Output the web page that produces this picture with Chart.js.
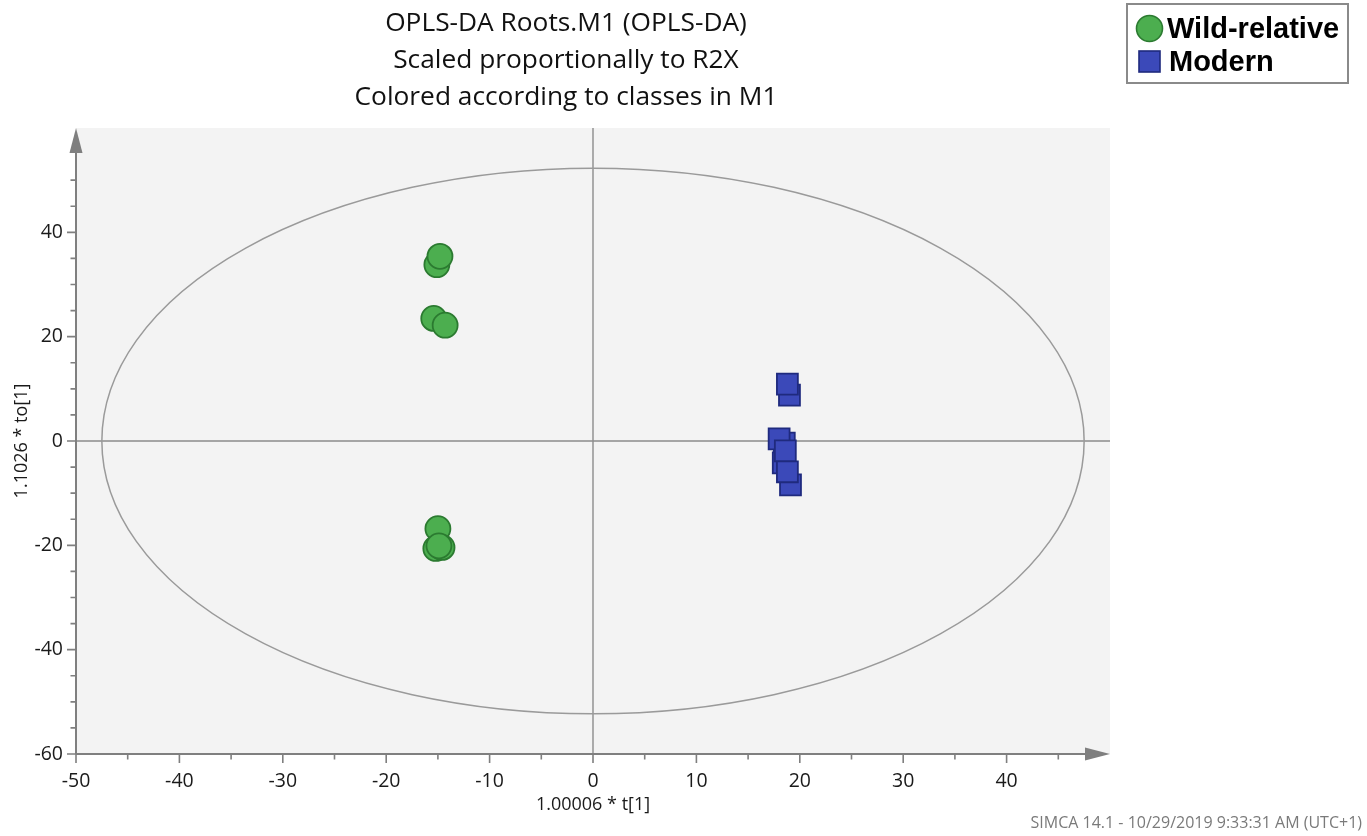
<!DOCTYPE html>
<html>
<head>
<meta charset="utf-8">
<script src="https://cdn.jsdelivr.net/npm/chart.js@4.4.1/dist/chart.umd.min.js"></script>
<style>
  html, body { margin: 0; padding: 0; background: #ffffff; }
  #wrap { width: 1367px; height: 836px; position: relative; }
</style>
</head>
<body>
<div id="wrap"><canvas id="scoreplot" width="1367" height="836"></canvas></div>
<script>
// Score plot text
const titleLines = ['OPLS-DA Roots.M1 (OPLS-DA)', 'Scaled proportionally to R2X', 'Colored according to classes in M1'];
const seriesNames = ['Wild-relative', 'Modern'];
const xTitle = '1.00006 * t[1]';
const yTitle = '1.1026 * to[1]';
const footerText = 'SIMCA 14.1 - 10/29/2019 9:33:31 AM (UTC+1)';

// Scores: predictive component t[1] and orthogonal component to[1]
const wildT  = [-15.1, -14.8, -15.4, -14.3, -15.0, -15.2, -14.6, -14.9];
const wildTo = [ 33.8,  35.4,  23.5,  22.2, -16.8, -20.6, -20.4, -20.1];
const modernT  = [19.0, 18.8, 18.5, 18.0, 18.4, 18.6, 19.1, 18.8];
const modernTo = [ 8.8, 10.9, -0.4,  0.4, -4.2, -1.9, -8.4, -5.9];

// Tick labels
const xTickLabels = [-50, -40, -30, -20, -10, 0, 10, 20, 30, 40];
const yTickLabels = [-60, -40, -20, 0, 20, 40];
const xMinorTicks = [-45, -35, -25, -15, -5, 5, 15, 25, 35, 45];
const yMinorTicks = [-55, -50, -45, -35, -30, -25, -15, -10, -5, 5, 10, 15, 25, 30, 35, 45, 50];

// Hotelling's T2 (95%) ellipse radii
const ellipseT = 47.5;
const ellipseTo = 52.3;

const toPoints = (xs, ys) => xs.map((v, i) => ({ x: v, y: ys[i] }));

const GREEN = '#4cae4f', GREEN_EDGE = '#2b7a30';
const BLUE = '#3b49b9', BLUE_EDGE = '#1f2a7e';
const AXIS = '#7f7f7f';
const TEXT_FONT = '"Open Sans", "Noto Sans", sans-serif';

const decor = {
  id: 'simcaDecor',
  beforeDraw(chart) {
    const { ctx, chartArea: a } = chart;
    ctx.save();
    ctx.fillStyle = '#ffffff';
    ctx.fillRect(0, 0, chart.width, chart.height);
    ctx.fillStyle = '#f3f3f3';
    ctx.fillRect(a.left, a.top, a.right - a.left, a.bottom - a.top);

    // title
    ctx.fillStyle = '#111111';
    ctx.font = '26.3px ' + TEXT_FONT;
    ctx.textAlign = 'center';
    ctx.textBaseline = 'alphabetic';
    titleLines.forEach((t, i) => ctx.fillText(t, 566, 31 + i * 37));

    // footer
    ctx.fillStyle = '#7a7a7a';
    ctx.font = '16px ' + TEXT_FONT;
    ctx.textAlign = 'right';
    ctx.fillText(footerText, 1362, 828);
    ctx.restore();
  },
  beforeDatasetsDraw(chart) {
    const { ctx, chartArea: a, scales: { x, y } } = chart;
    const cx = x.getPixelForValue(0), cy = y.getPixelForValue(0);
    ctx.save();
    // zero lines
    ctx.strokeStyle = '#8c8c8c';
    ctx.lineWidth = 1.4;
    ctx.beginPath();
    ctx.moveTo(a.left, cy); ctx.lineTo(a.right, cy);
    ctx.moveTo(cx, a.top); ctx.lineTo(cx, a.bottom);
    ctx.stroke();
    // ellipse
    const rx = x.getPixelForValue(ellipseT) - cx;
    const ry = cy - y.getPixelForValue(ellipseTo);
    ctx.strokeStyle = '#9a9a9a';
    ctx.lineWidth = 1.5;
    ctx.beginPath();
    ctx.ellipse(cx, cy, rx, ry, 0, 0, Math.PI * 2);
    ctx.stroke();
    ctx.restore();
  },
  afterDraw(chart) {
    const { ctx, chartArea: a, scales: { x, y } } = chart;
    ctx.save();
    ctx.strokeStyle = AXIS;
    ctx.fillStyle = AXIS;
    ctx.lineWidth = 2;
    // axis lines
    ctx.beginPath();
    ctx.moveTo(a.left, a.bottom); ctx.lineTo(a.left, a.top + 20);
    ctx.moveTo(a.left, a.bottom); ctx.lineTo(a.right - 20, a.bottom);
    ctx.stroke();
    // arrow heads
    ctx.beginPath();
    ctx.moveTo(a.left, a.top);
    ctx.lineTo(a.left - 6.5, a.top + 25);
    ctx.lineTo(a.left + 6.5, a.top + 25);
    ctx.closePath();
    ctx.fill();
    ctx.beginPath();
    ctx.moveTo(a.right, a.bottom);
    ctx.lineTo(a.right - 25, a.bottom - 6.5);
    ctx.lineTo(a.right - 25, a.bottom + 6.5);
    ctx.closePath();
    ctx.fill();
    // tick marks
    ctx.lineWidth = 1.6;
    ctx.beginPath();
    xTickLabels.forEach(v => { const p = x.getPixelForValue(v); ctx.moveTo(p, a.bottom); ctx.lineTo(p, a.bottom + 9); });
    xMinorTicks.forEach(v => { const p = x.getPixelForValue(v); ctx.moveTo(p, a.bottom); ctx.lineTo(p, a.bottom + 5.5); });
    yTickLabels.forEach(v => { const p = y.getPixelForValue(v); ctx.moveTo(a.left, p); ctx.lineTo(a.left - 9, p); });
    yMinorTicks.forEach(v => { const p = y.getPixelForValue(v); ctx.moveTo(a.left, p); ctx.lineTo(a.left - 5.5, p); });
    ctx.stroke();

    // legend box
    ctx.fillStyle = '#ffffff';
    ctx.fillRect(1127, 4, 221, 79);
    ctx.strokeStyle = '#8a8a8a';
    ctx.lineWidth = 2;
    ctx.strokeRect(1127, 4, 221, 79);
    const ds = chart.data.datasets;
    ctx.lineWidth = 1.6;
    ctx.fillStyle = ds[0].backgroundColor;
    ctx.strokeStyle = ds[0].borderColor;
    ctx.beginPath();
    ctx.arc(1149.5, 28.5, 13, 0, Math.PI * 2);
    ctx.fill(); ctx.stroke();
    ctx.fillStyle = ds[1].backgroundColor;
    ctx.strokeStyle = ds[1].borderColor;
    ctx.fillRect(1139, 51, 21, 21);
    ctx.strokeRect(1139, 51, 21, 21);
    ctx.fillStyle = '#000000';
    ctx.font = 'bold 29px "Liberation Sans", Arial, sans-serif';
    ctx.textAlign = 'left';
    ctx.textBaseline = 'alphabetic';
    ctx.fillText(ds[0].label, 1167, 38);
    ctx.fillText(ds[1].label, 1169, 71);
    ctx.restore();
  }
};

const tickFont = { family: TEXT_FONT, size: 19.5 };
const axisTitleFont = { family: TEXT_FONT, size: 18 };

new Chart(document.getElementById('scoreplot'), {
  type: 'scatter',
  data: {
    datasets: [
      {
        label: seriesNames[0],
        data: toPoints(wildT, wildTo),
        pointStyle: 'circle',
        pointRadius: 12.5,
        pointHoverRadius: 12.5,
        backgroundColor: GREEN,
        borderColor: GREEN_EDGE,
        borderWidth: 1.8
      },
      {
        label: seriesNames[1],
        data: toPoints(modernT, modernTo),
        pointStyle: 'rect',
        pointRadius: 14.8,
        pointHoverRadius: 14.8,
        backgroundColor: BLUE,
        borderColor: BLUE_EDGE,
        borderWidth: 1.8
      }
    ]
  },
  options: {
    responsive: false,
    animation: false,
    events: [],
    layout: { padding: { left: 0, right: 257, top: 128, bottom: 0 } },
    plugins: {
      legend: { display: false },
      title: { display: false },
      tooltip: { enabled: false }
    },
    scales: {
      x: {
        type: 'linear',
        min: -50,
        max: 50,
        afterFit(s) { s.height = 82; },
        afterBuildTicks(s) { s.ticks = xTickLabels.map(v => ({ value: v })); },
        ticks: { font: tickFont, color: '#1a1a1a', padding: 16, autoSkip: false, maxRotation: 0, callback: v => String(v) },
        grid: { display: false, drawTicks: false },
        border: { display: false },
        title: { display: true, text: xTitle, font: axisTitleFont, color: '#1a1a1a', padding: { top: 0, bottom: 20 } }
      },
      y: {
        type: 'linear',
        min: -60,
        max: 60,
        afterFit(s) { s.width = 76; },
        afterBuildTicks(s) { s.ticks = yTickLabels.map(v => ({ value: v })); },
        ticks: { font: tickFont, color: '#1a1a1a', padding: 13, autoSkip: false, callback: v => String(v) },
        grid: { display: false, drawTicks: false },
        border: { display: false },
        title: { display: true, text: yTitle, font: axisTitleFont, color: '#1a1a1a', padding: { top: 11, bottom: 0 } }
      }
    }
  },
  plugins: [decor]
});
</script>
</body>
</html>
